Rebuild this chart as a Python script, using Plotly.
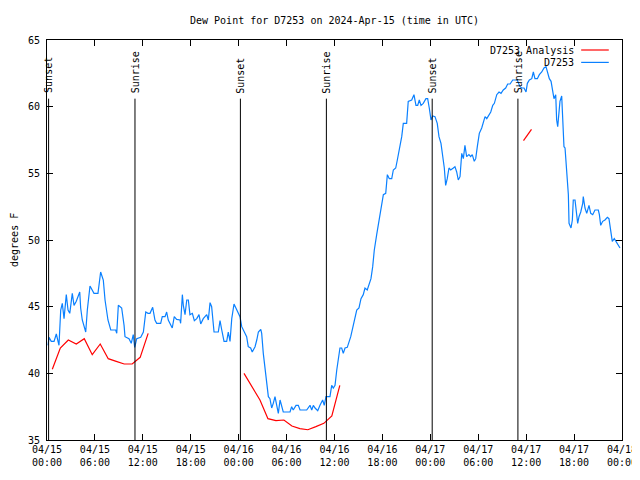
import pandas as pd
import plotly.graph_objects as go

# ---------------- data ----------------
START = "2024-04-15 00:00"

# D7253 observations: minutes since 2024-04-15 00:00 UTC, dew point (F)
obs_minutes = [
    8, 15, 32, 53, 70, 90, 103, 115, 128, 145, 158, 171, 190, 203, 220, 246, 253, 265,
    291, 303, 323, 353, 383, 403, 423, 436, 458, 479, 516, 524, 536, 561, 579, 586,
    616, 633, 648, 659, 674, 704, 724, 742, 759,
    774, 794, 811, 824, 854, 866, 887, 899, 911, 941, 956, 974, 999, 1004, 1017, 1024,
    1037, 1050, 1062, 1074, 1092, 1107, 1125, 1142, 1155, 1174, 1200, 1212, 1225, 1237,
    1255, 1287, 1300, 1313, 1330, 1350, 1362, 1375, 1388, 1405, 1425, 1437,
    1450, 1463, 1480, 1500, 1512, 1530, 1542, 1563, 1576, 1588, 1606, 1613, 1625, 1638,
    1651, 1663, 1675, 1688, 1700, 1713, 1726, 1738, 1751, 1763, 1775, 1826, 1838, 1850,
    1871, 1888, 1901, 1951, 1976, 1989, 2001, 2014, 2034, 2051, 2071, 2083, 2096, 2126,
    2139, 2151, 2164, 2177, 2189, 2201, 2214, 2226, 2239, 2256,
    2282, 2297, 2314, 2327, 2344, 2359, 2376, 2389, 2406, 2421, 2434, 2447, 2459, 2477,
    2497, 2515, 2527, 2545, 2557, 2572, 2590, 2602, 2620, 2632, 2647, 2665, 2677, 2702,
    2714, 2740, 2757, 2772, 2785, 2797, 2810, 2827, 2847, 2860, 2872,
    2885, 2898, 2915, 2932, 2945, 2960, 2973, 2985, 2995, 3007, 3020, 3033, 3053, 3065,
    3078, 3090, 3103, 3116, 3128, 3140, 3153, 3170, 3183, 3195, 3210, 3221, 3233, 3248,
    3266, 3278, 3291, 3304, 3321, 3334, 3349, 3361, 3379, 3396, 3411, 3428, 3446, 3461,
    3479, 3499, 3533,
    3554, 3566, 3584, 3599, 3609, 3624, 3642, 3654, 3666, 3684, 3699, 3717, 3734, 3749,
    3762, 3774, 3787, 3799, 3809, 3822, 3829, 3837, 3844, 3854, 3867, 3874, 3884, 3892,
    3904, 3917, 3922, 3929, 3937, 3947, 3954, 3967, 3980, 3987, 3997, 4010, 4025, 4029,
    4042, 4055, 4072, 4085, 4100, 4117, 4142, 4150, 4160, 4175, 4192, 4210, 4222, 4229,
    4239, 4247, 4262, 4275, 4292, 4305,
]
obs_dewpoint = [
    42.1, 42.7, 42.4, 42.4, 42.95, 42.1, 44.75, 45.25, 44.1, 45.9, 44.75, 44.5, 46.0, 45.1,
    45.4, 46.1, 44.9, 44.0, 43.1, 44.75, 46.55, 46.0, 46.0, 47.6, 47.0, 45.5, 44.0, 43.25,
    43.25, 43.0, 45.1, 44.9, 43.6, 42.75, 42.6, 42.25, 42.9, 41.95, 42.6, 42.7, 43.1, 44.6,
    44.5,
    44.5, 44.95, 44.0, 43.75, 43.75, 44.25, 44.25, 44.6, 44.0, 43.4, 44.25, 44.05, 44.0,
    43.75, 45.9, 45.1, 44.4, 45.5, 45.5, 44.4, 44.5, 43.95, 44.1, 44.4, 43.7, 44.1, 44.4,
    44.0, 45.3, 45.0, 43.1, 43.1, 43.95, 43.25, 42.4, 42.4, 43.1, 42.4, 44.1, 45.2, 44.75,
    44.5,
    44.25, 43.5, 43.1, 42.75, 42.0, 41.9, 41.6, 42.0, 42.5, 43.1, 43.3, 43.0, 41.5, 40.5,
    39.25, 38.25, 38.1, 37.4, 37.75, 38.25, 37.6, 37.0, 38.0, 37.6, 37.1, 37.1, 37.5, 37.25,
    37.6, 37.6, 37.25, 37.25, 37.6, 37.25, 37.6, 37.4, 37.2, 37.6, 38.0, 37.6, 38.25, 38.25,
    39.1, 38.9, 39.1, 40.25, 41.25, 41.9, 41.9, 41.5, 41.9, 41.95,
    42.75, 43.5, 44.1, 44.75, 44.9, 45.6, 45.9, 46.4, 46.25, 46.75, 47.1, 48.0, 49.25, 50.4,
    51.5, 52.6, 53.4, 53.5, 54.9, 54.6, 54.6, 55.25, 55.4, 56.0, 56.75, 57.75, 58.75, 58.75,
    60.4, 60.5, 60.9, 60.1, 60.1, 60.5, 60.1, 60.25, 60.6, 60.6, 59.9,
    59.0, 59.3, 59.25, 58.75, 57.75, 57.25, 56.25, 55.4, 54.1, 54.6, 55.4, 55.25, 55.4, 55.5,
    55.1, 54.5, 54.75, 56.5, 56.1, 57.1, 56.25, 56.4, 56.25, 56.4, 55.9, 56.1, 57.0, 58.0,
    58.4, 58.9, 59.25, 59.1, 59.4, 59.6, 60.1, 60.25, 60.9, 61.1, 61.0, 61.25, 61.4, 61.7,
    61.7, 62.0, 62.0,
    61.5, 61.4, 61.4, 61.1, 61.75, 62.0, 62.1, 62.6, 62.1, 62.1, 62.4, 62.6, 62.9, 63.0,
    62.6, 62.1, 61.9, 61.0, 60.6, 60.9, 59.0, 58.5, 59.1, 60.4, 60.8, 58.75, 57.0, 56.9,
    54.75, 53.4, 51.25, 51.0, 50.9, 51.5, 53.0, 53.0, 51.75, 51.25, 51.75, 52.1, 52.75, 53.25,
    52.4, 52.0, 52.6, 52.0, 51.9, 52.25, 52.25, 51.9, 51.1, 51.4, 51.5, 51.7, 51.6, 51.0,
    50.5, 49.9, 50.1, 49.9, 49.6, 49.4,
]

# D7253 Analysis: three separate runs (minutes since start, dew point F)
ana1_minutes = [40, 100, 160, 220, 280, 340, 400, 460, 520, 580, 640, 700, 760]
ana1_dewpoint = [40.3, 41.9, 42.5, 42.2, 42.6, 41.4, 42.2, 41.1, 40.9, 40.7, 40.7, 41.2, 43.0]
ana2_minutes = [1480, 1540, 1600, 1660, 1720, 1780, 1840, 1900, 1960, 2020, 2080, 2140, 2200]
ana2_dewpoint = [40.0, 39.05, 38.0, 36.6, 36.45, 36.5, 36.05, 35.85, 35.77, 36.0, 36.25, 36.8, 39.1]
ana3_minutes = [3580, 3640]
ana3_dewpoint = [57.45, 58.3]

sun_events = ["Sunset", "Sunrise", "Sunset", "Sunrise", "Sunset", "Sunrise"]
sun_times = ["2024-04-15 00:12", "2024-04-15 11:01", "2024-04-16 00:13",
             "2024-04-16 10:59", "2024-04-17 00:14", "2024-04-17 10:58"]
sun_line_top = 60.6

x_tick_times = ["2024-04-15 00:00", "2024-04-15 06:00", "2024-04-15 12:00", "2024-04-15 18:00",
                "2024-04-16 00:00", "2024-04-16 06:00", "2024-04-16 12:00", "2024-04-16 18:00",
                "2024-04-17 00:00", "2024-04-17 06:00", "2024-04-17 12:00", "2024-04-17 18:00",
                "2024-04-18 00:00"]
x_tick_text = ["04/15<br>00:00", "04/15<br>06:00", "04/15<br>12:00", "04/15<br>18:00",
               "04/16<br>00:00", "04/16<br>06:00", "04/16<br>12:00", "04/16<br>18:00",
               "04/17<br>00:00", "04/17<br>06:00", "04/17<br>12:00", "04/17<br>18:00",
               "04/18<br>00:00"]
y_ticks = [35, 40, 45, 50, 55, 60, 65]

series_names = ["D7253 Analysis", "D7253"]
series_colors = ["#ff0000", "#0a80ff"]

# ---------------- figure ----------------
start = pd.Timestamp(START)


def to_time(mins):
    return [start + pd.Timedelta(minutes=m) for m in mins]


FONT = "DejaVu Sans Mono"
# page body adds an 8px offset, so the figure is drawn 8px smaller
W, H = 632, 472
fig = go.Figure()

for mins, vals in [(ana1_minutes, ana1_dewpoint), (ana2_minutes, ana2_dewpoint),
                   (ana3_minutes, ana3_dewpoint)]:
    fig.add_trace(go.Scatter(x=to_time(mins), y=vals, mode="lines",
                             line=dict(color=series_colors[0], width=1.2),
                             showlegend=False, hoverinfo="skip"))

fig.add_trace(go.Scatter(x=to_time(obs_minutes), y=obs_dewpoint, mode="lines",
                         line=dict(color=series_colors[1], width=1.2),
                         showlegend=False, hoverinfo="skip"))

shapes = []
annotations = []
for name, t in zip(sun_events, sun_times):
    shapes.append(dict(type="line", xref="x", yref="y", x0=t, x1=t, y0=35, y1=sun_line_top,
                       line=dict(color="black", width=1)))
    annotations.append(dict(x=t, y=sun_line_top + 0.25, xref="x", yref="y", text=name,
                            textangle=-90, showarrow=False, xanchor="center",
                            yanchor="bottom", font=dict(family=FONT, size=10, color="black")))

# legend (gnuplot style: text then line sample)
legend_rows_y = [0.975, 0.944]
for name, color, yy in zip(series_names, series_colors, legend_rows_y):
    annotations.append(dict(x=0.92, y=yy, xref="paper", yref="paper", text=name,
                            showarrow=False, xanchor="right", yanchor="middle",
                            font=dict(family=FONT, size=10, color="black")))
    shapes.append(dict(type="line", xref="paper", yref="paper", x0=0.929, x1=0.977,
                       y0=yy, y1=yy, line=dict(color=color, width=1.2)))

annotations.append(dict(x=-0.0574, y=0.5, xref="paper", yref="paper", text="degrees F",
                        textangle=-90, showarrow=False, xanchor="center", yanchor="middle",
                        font=dict(family=FONT, size=10, color="black")))

fig.update_layout(
    width=W, height=H,
    margin=dict(l=39, r=18, t=32, b=40, autoexpand=False),
    paper_bgcolor="white", plot_bgcolor="white",
    font=dict(family=FONT, size=10, color="black"),
    title=dict(text="Dew Point for D7253 on 2024-Apr-15 (time in UTC)",
               x=0.5, xref="paper", xanchor="center", y=1 - 12 / H, yanchor="middle",
               font=dict(family=FONT, size=10, color="black")),
    shapes=shapes, annotations=annotations,
    showlegend=False,
)
fig.update_xaxes(range=[x_tick_times[0], x_tick_times[-1]], tickvals=x_tick_times,
                 ticktext=x_tick_text, ticks="inside", ticklen=6, tickcolor="black",
                 showline=True, linecolor="black", linewidth=1, mirror="ticks",
                 showgrid=False, zeroline=False, tickfont=dict(family=FONT, size=10))
fig.update_yaxes(range=[35, 65], tickvals=y_ticks, ticks="inside", ticklen=6,
                 tickcolor="black", showline=True, linecolor="black", linewidth=1,
                 mirror="ticks", showgrid=False, zeroline=False,
                 tickfont=dict(family=FONT, size=10), ticklabelstandoff=4)

fig.write_html("out.html")
